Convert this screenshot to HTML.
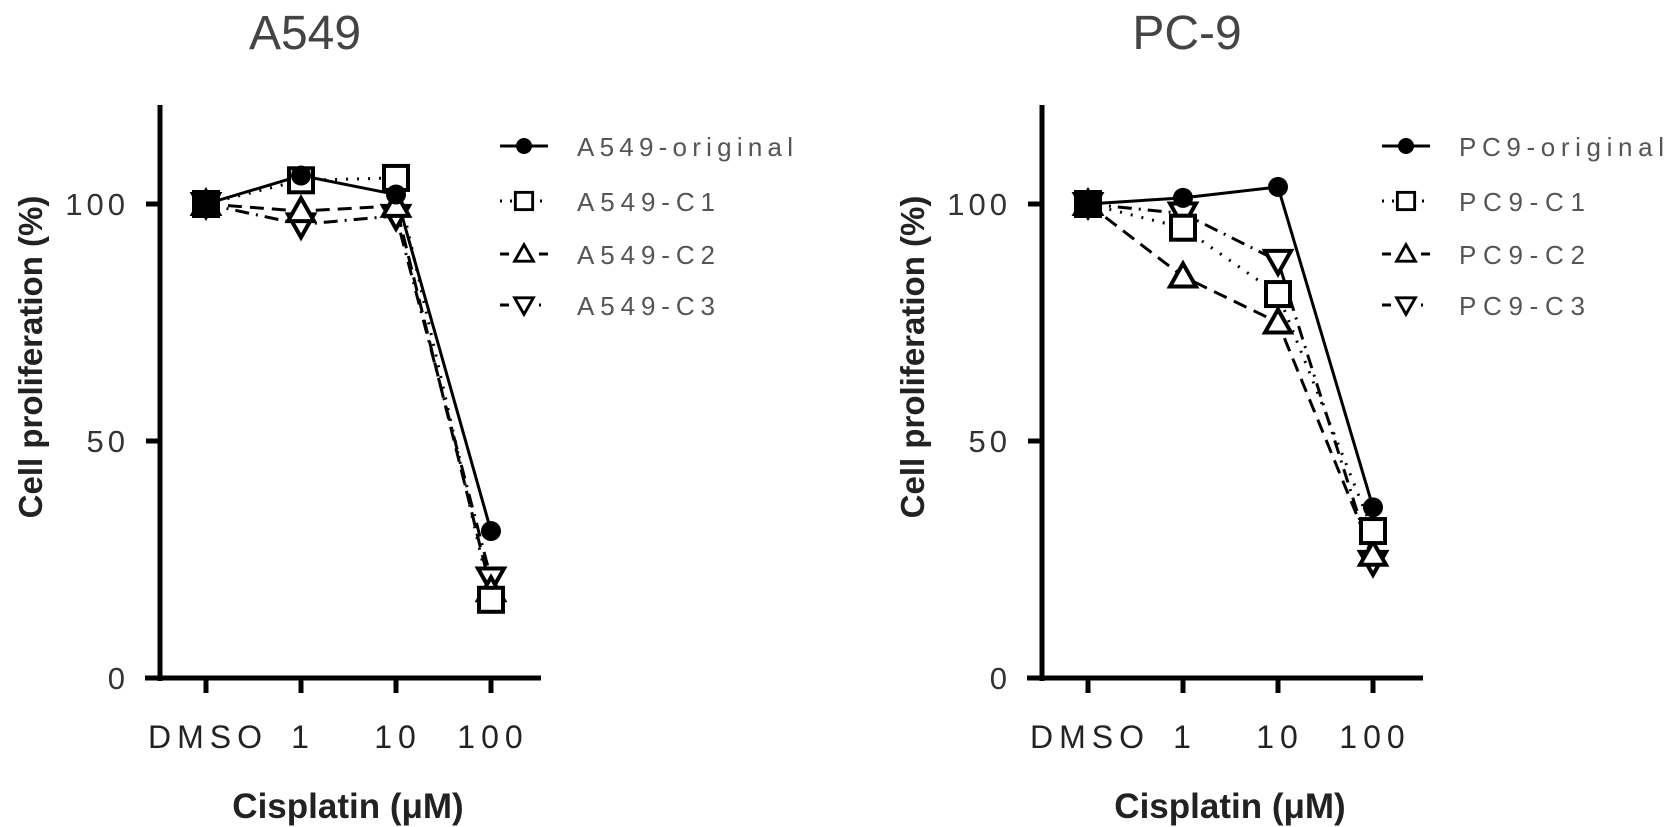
<!DOCTYPE html>
<html><head><meta charset="utf-8"><style>
body{margin:0;background:#fff;}
svg{display:block;font-family:"Liberation Sans",sans-serif;}
</style></head><body>
<svg id="chart" width="1677" height="827" viewBox="0 0 1677 827"></svg>
<script>
const categories = ["DMSO", "1", "10", "100"];
const yTicks = [0, 50, 100];
const panelTitles = ["A549", "PC-9"];
const legendA = ["A549-original", "A549-C1", "A549-C2", "A549-C3"];
const legendB = ["PC9-original", "PC9-C1", "PC9-C2", "PC9-C3"];
const a549Original = [100, 106, 102, 31];
const a549C1 = [100, 105, 105.5, 16.5];
const a549C2 = [100, 98.5, 99.6, 18.5];
const a549C3 = [100, 95.7, 97.5, 21];
const pc9Original = [100, 101.3, 103.6, 36];
const pc9C1 = [100, 95, 81, 31];
const pc9C2 = [100, 84.7, 75, 26];
const pc9C3 = [100, 98, 88, 24.5];

const NS = "http://www.w3.org/2000/svg";
const svg = document.getElementById("chart");
function mk(tag, attrs, parent) {
  const e = document.createElementNS(NS, tag);
  for (const k in attrs) e.setAttribute(k, attrs[k]);
  (parent || svg).appendChild(e);
  return e;
}
const dashes = ["", "2 9", "14 8", "14 7 2 7"];
const markers = ["circle", "square", "tri", "tridown"];

function drawMarker(g, type, x, y) {
  let m;
  if (type === "circle") m = mk("circle", {cx: x, cy: y, r: 10, fill: "#000"}, g);
  else if (type === "square") m = mk("rect", {x: x - 12, y: y - 12, width: 24, height: 24, fill: "#fff", stroke: "#000", "stroke-width": 4}, g);
  else if (type === "tri") m = mk("polygon", {points: `${x},${y-13} ${x-13},${y+10} ${x+13},${y+10}`, fill: "#fff", stroke: "#000", "stroke-width": 4}, g);
  else m = mk("polygon", {points: `${x},${y+13} ${x-13},${y-10} ${x+13},${y-10}`, fill: "#fff", stroke: "#000", "stroke-width": 4}, g);
  return m;
}

function panel(off, title, legend, series) {
  const yAxisX = 160 + off, y0 = 678, yTop = 105, pxPer = 4.74;
  const yS = v => y0 - v * pxPer;
  const xS = i => 206 + off + i * 95;
  const g = mk("g", {});
  
  

  const t = mk("text", {x: 305 + off, y: 49, "text-anchor": "middle", "font-size": 48, fill: "#444"}, g);
  t.textContent = title;
  
  

  const ya = mk("line", {x1: yAxisX, y1: yTop, x2: yAxisX, y2: y0 + 3, stroke: "#000", "stroke-width": 5}, g);
  
  
  const xa = mk("line", {x1: 145 + off, y1: y0, x2: 541 + off, y2: y0, stroke: "#000", "stroke-width": 5}, g);
  
  

  yTicks.forEach(v => {
    mk("line", {x1: yAxisX - 14, y1: yS(v), x2: yAxisX, y2: yS(v), stroke: "#000", "stroke-width": 5}, g);
    const lbl = mk("text", {x: 129 + off, y: yS(v) + 11, "text-anchor": "end", "font-size": 31, fill: "#333", "letter-spacing": 4}, g);
    lbl.textContent = v;
    
    
  });
  categories.forEach((c, i) => {
    mk("line", {x1: xS(i), y1: y0, x2: xS(i), y2: y0 + 15, stroke: "#000", "stroke-width": 5}, g);
    const lbl = mk("text", {x: xS(i) + 2, y: 748, "text-anchor": "middle", "font-size": 32, fill: "#222", "letter-spacing": 6}, g);
    lbl.textContent = c;
    
    
  });

  const xt = mk("text", {x: 348 + off, y: 818, "text-anchor": "middle", "font-size": 35, "font-weight": "bold", fill: "#222"}, g);
  xt.textContent = "Cisplatin (μM)";
  
  
  const yt = mk("text", {x: 0, y: 0, "text-anchor": "middle", "font-size": 33, "font-weight": "bold", fill: "#222", transform: `translate(${42 + off},357) rotate(-90)`}, g);
  yt.textContent = "Cell proliferation (%)";
  
  

  for (let s = series.length - 1; s >= 0; s--) {
    const pts = series[s].map((v, i) => xS(i) + "," + yS(v)).join(" ");
    const pl = mk("polyline", {points: pts, fill: "none", stroke: "#000", "stroke-width": 3, "stroke-dasharray": dashes[s]}, g);
    
    
  }
  for (let s = series.length - 1; s >= 0; s--) {
    series[s].forEach((v, i) => {
      const m = drawMarker(g, markers[s], xS(i), yS(v));
      if (i === 0) m.setAttribute("fill", "#000");
      
      
    });
  }

  const rows = [146, 201, 254, 305];
  legend.forEach((name, s) => {
    const lg = mk("g", {}, g);
    
    
    const lx = 524 + off, ly = rows[s];
    mk("line", {x1: lx - 24, y1: ly, x2: lx + 24, y2: ly, stroke: "#000", "stroke-width": 3, "stroke-dasharray": s === 0 ? "" : (s === 1 ? "2 8" : (s === 2 ? "9 30" : "9 30 2 30"))}, lg);
    const mm = drawMarker(lg, markers[s], lx, ly);
    if (markers[s] !== "circle") mm.setAttribute("transform", `translate(${lx},${ly}) scale(0.72) translate(${-lx},${-ly})`);
    else mm.setAttribute("r", 8);
    const tx = mk("text", {x: 577 + off, y: ly + 10, "font-size": 26, fill: "#555", textLength: s === 0 ? (off ? 205 : 216) : (off ? 126 : 138), lengthAdjust: "spacing"}, lg);
    tx.textContent = name;
  });
}
panel(0, panelTitles[0], legendA, [a549Original, a549C1, a549C2, a549C3]);
panel(882, panelTitles[1], legendB, [pc9Original, pc9C1, pc9C2, pc9C3]);
</script>
</body></html>
